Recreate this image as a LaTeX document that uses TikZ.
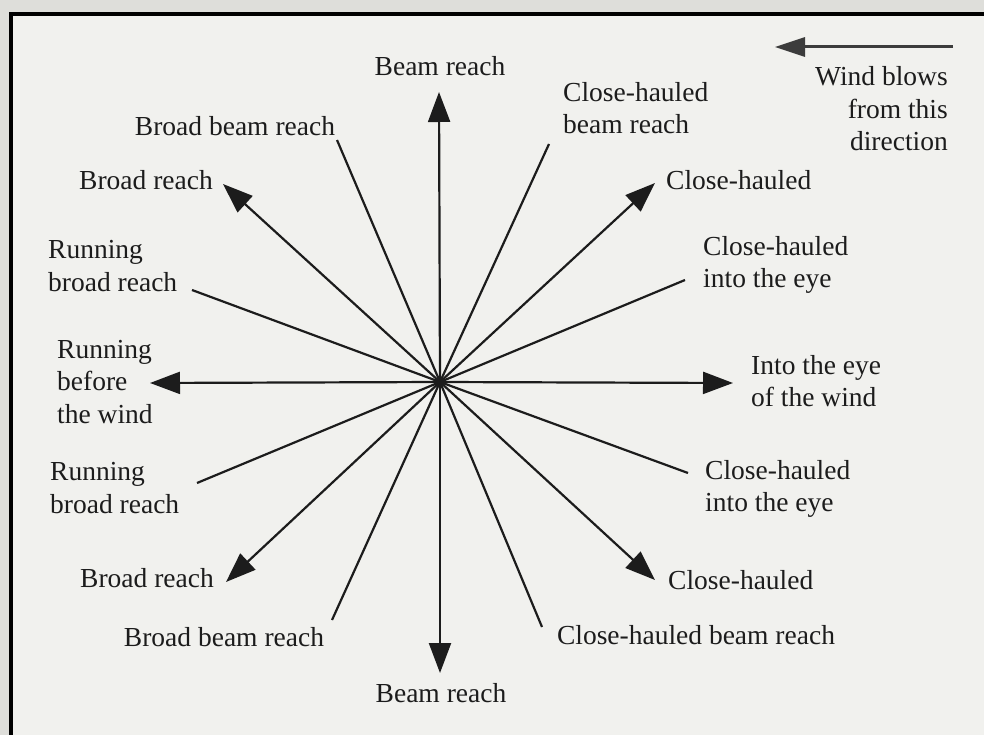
\documentclass[tikz,border=0pt]{standalone}
\usepackage{fontspec}
\setmainfont{Liberation Serif}
\usetikzlibrary{arrows.meta}
\definecolor{pagebg}{RGB}{222,222,218}
\definecolor{boxbg}{RGB}{241,241,238}
\definecolor{ink}{RGB}{28,28,28}
\definecolor{windink}{RGB}{60,60,60}
\begin{document}
\begin{tikzpicture}[x=1pt,y=-1pt,
  spoke/.style={draw=ink, line width=2.2pt},
  tipped/.style={-{Triangle[length=30pt,width=22pt]}},
  lbl/.style={inner sep=0pt, text=ink, font=\fontsize{27.5}{32.5}\selectfont},
  lbll/.style={lbl, align=left, anchor=west},
  lblr/.style={lbl, align=right, anchor=east}]
\useasboundingbox (0,0) rectangle (984,735);
\fill[pagebg] (0,0) rectangle (984,735);
\draw[fill=boxbg, line width=3.5pt] (11,14) rectangle (1000,750);

% centre and spoke ends
\coordinate (c) at (440,382);
\coordinate (n) at (439,92);
\coordinate (s) at (440,673);
\coordinate (w) at (150,383);
\coordinate (e) at (733,383);
\coordinate (nw) at (223,184);
\coordinate (ne) at (655,183);
\coordinate (sw) at (226,582);
\coordinate (se) at (655,580);
\coordinate (nnw) at (337,140);
\coordinate (nne) at (549,144);
\coordinate (wnw) at (192,290);
\coordinate (wsw) at (197,483);
\coordinate (ene) at (685,280);
\coordinate (ese) at (688,473);
\coordinate (ssw) at (332,620);
\coordinate (sse) at (542,627);

% plain spokes
\foreach \p in {nnw,nne,wnw,wsw,ene,ese,ssw,sse}
  \draw[spoke] (c) -- (\p);
% arrowed spokes
\foreach \p in {n,s,w,e,nw,ne,sw,se}
  \draw[spoke, tipped, fill=ink] (c) -- (\p);

% wind arrow
\coordinate (windtail) at (953,47);
\coordinate (windtip) at (775,47);
\draw[draw=windink, line width=3pt, -{Triangle[length=30pt,width=19pt]}] (windtail) -- (windtip);
\node[lblr] (wind) at (948,109) {Wind blows\\from this\\direction};

% labels
\node[lbl] (ln) at (440,66) {Beam reach};
\node[lbl] (ls) at (441,693) {Beam reach};
\node[lbl] (lnnw) at (235,126) {Broad beam reach};
\node[lbll] (lnne) at (563,108) {Close-hauled\\beam reach};
\node[lbl] (lnw) at (146,180) {Broad reach};
\node[lbll] (lne) at (666,180) {Close-hauled};
\node[lbll] (lwnw) at (48,266) {Running\\broad reach};
\node[lbll] (lene) at (703,265) {Close-hauled\\into the eye};
\node[lbll] (lw) at (57,382) {Running\\before\\the wind};
\node[lbll] (le) at (751,381) {Into the eye\\of the wind};
\node[lbll] (lwsw) at (50,488) {Running\\broad reach};
\node[lbll] (lese) at (705,489) {Close-hauled\\into the eye};
\node[lbl] (lsw) at (147,578) {Broad reach};
\node[lbll] (lse) at (668,580) {Close-hauled};
\node[lbl] (lssw) at (224,637) {Broad beam reach};
\node[lbl] (lsse) at (696,635) {Close-hauled beam reach};
\end{tikzpicture}
\end{document}
